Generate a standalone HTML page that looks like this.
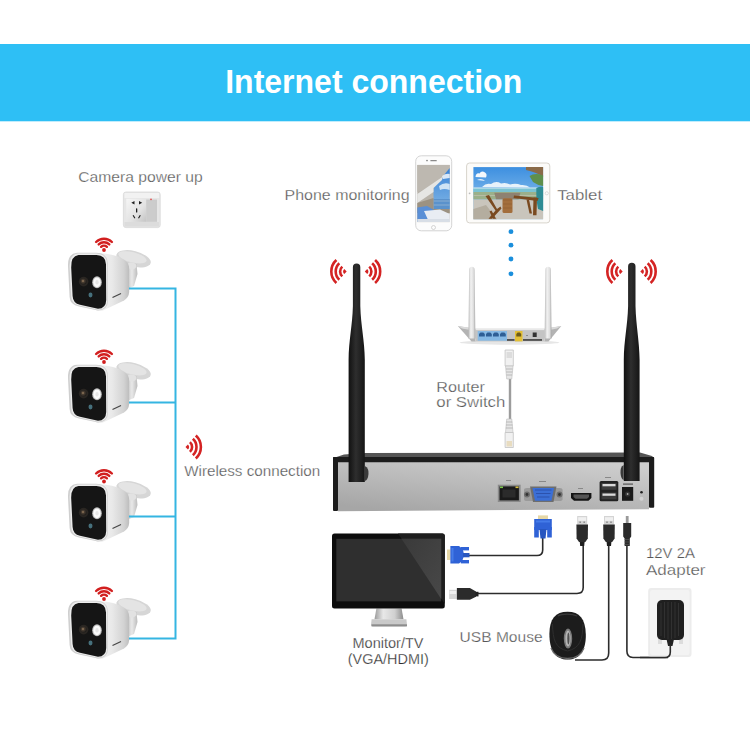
<!DOCTYPE html>
<html><head><meta charset="utf-8">
<style>
html,body{margin:0;padding:0;background:#fff;width:750px;height:750px;overflow:hidden}
svg{display:block}
.lb{font-family:"Liberation Sans",sans-serif;font-size:14.8px;fill:#575757;stroke:#fff;stroke-width:0.25px}
</style></head><body>
<svg width="750" height="750" viewBox="0 0 750 750">
<defs>
<linearGradient id="nvrFront" x1="0.2" y1="1" x2="0.8" y2="0">
  <stop offset="0" stop-color="#a6a6a6"/><stop offset="0.5" stop-color="#bababa"/><stop offset="1" stop-color="#cdcdcd"/>
</linearGradient>
<linearGradient id="antG" x1="0" y1="0" x2="1" y2="0">
  <stop offset="0" stop-color="#111"/><stop offset="0.45" stop-color="#2e2e2e"/><stop offset="1" stop-color="#151515"/>
</linearGradient>
<g id="wifiL">
  <path d="M0 0 L-2.4 -2.6 A3.4 3.4 0 0 0 -2.4 2.6 Z" fill="#d42323"/>
  <g fill="none" stroke="#d42323" stroke-width="2.6">
    <path d="M-4.42 -4.9 A6.6 6.6 0 0 0 -4.42 4.9"/>
    <path d="M-7.36 -8.17 A11 11 0 0 0 -7.36 8.17"/>
    <path d="M-10.3 -11.44 A15.4 15.4 0 0 0 -10.3 11.44"/>
  </g>
</g>
<g id="wifiU">
  <circle cx="0" cy="0" r="1.9" fill="#d21f1f"/>
  <g fill="none" stroke="#d21f1f" stroke-width="2.4" stroke-linecap="round">
    <path d="M-2.9 -3.2 A4.2 4.2 0 0 1 2.9 -3.2"/>
    <path d="M-5.3 -5.6 A7.6 7.6 0 0 1 5.3 -5.6"/>
    <path d="M-7.9 -8 A11.2 11.2 0 0 1 7.9 -8"/>
  </g>
</g>

<linearGradient id="rAnt" x1="0" y1="0" x2="1" y2="0">
  <stop offset="0" stop-color="#b8b8b8"/><stop offset="0.35" stop-color="#f2f2f2"/><stop offset="0.7" stop-color="#e0e0e0"/><stop offset="1" stop-color="#a8a8a8"/>
</linearGradient>
<linearGradient id="skyT" x1="0" y1="0" x2="0" y2="1">
  <stop offset="0" stop-color="#3d8fe0"/><stop offset="1" stop-color="#a6d2f2"/>
</linearGradient>
<linearGradient id="phoneScr" x1="0" y1="0" x2="1" y2="0">
  <stop offset="0" stop-color="#c9c9c4"/><stop offset="0.5" stop-color="#e2e2dd"/><stop offset="1" stop-color="#d0d4d8"/>
</linearGradient>

<linearGradient id="stand" x1="0" y1="0" x2="1" y2="0">
  <stop offset="0" stop-color="#9a9a9a"/><stop offset="0.3" stop-color="#e8e8e8"/><stop offset="0.7" stop-color="#d0d0d0"/><stop offset="1" stop-color="#8c8c8c"/>
</linearGradient>
<linearGradient id="mouseG" x1="0" y1="0" x2="1" y2="1">
  <stop offset="0" stop-color="#4a4a4a"/><stop offset="0.5" stop-color="#1b1b1b"/><stop offset="1" stop-color="#0c0c0c"/>
</linearGradient>
<g id="usbV">
  <rect x="-5" y="0" width="10" height="8.6" fill="#d4d4d4"/>
  <rect x="-4" y="1.2" width="8" height="3.6" fill="#f0f0f0"/>
  <rect x="-2.8" y="5.5" width="1.6" height="1.4" fill="#8a8a8a"/><rect x="1.2" y="5.5" width="1.6" height="1.4" fill="#8a8a8a"/>
  <path d="M-5.8 8.6 H5.8 L5.6 22.5 L3.2 26 H-3.2 L-5.6 22.5 Z" fill="#2b2b2b"/>
  <path d="M-2.4 26 H2.4 L2 30 H-2 Z" fill="#1e1e1e"/>
</g>

<linearGradient id="camBody" x1="0" y1="0" x2="1" y2="0">
  <stop offset="0" stop-color="#f6f6f6"/><stop offset="0.5" stop-color="#e9e9e9"/><stop offset="0.85" stop-color="#d2d2d2"/><stop offset="1" stop-color="#bdbdbd"/>
</linearGradient>
<linearGradient id="camArm" x1="0" y1="0" x2="1" y2="0">
  <stop offset="0" stop-color="#c8c8c8"/><stop offset="0.5" stop-color="#e8e8e8"/><stop offset="1" stop-color="#bcbcbc"/>
</linearGradient>
<radialGradient id="lensG" cx="0.4" cy="0.4" r="0.6">
  <stop offset="0" stop-color="#a88a68"/><stop offset="0.4" stop-color="#4a3e32"/><stop offset="1" stop-color="#1e1c1a"/>
</radialGradient>
<g id="cam">
  <ellipse cx="133.6" cy="258.8" rx="17.6" ry="7.8" transform="rotate(14 133.6 258.8)" fill="#d6d6d6"/>
  <ellipse cx="132.5" cy="257.3" rx="14.5" ry="5.2" transform="rotate(14 132.5 257.3)" fill="#e4e4e4"/>
  <path d="M126.5 262 L136.5 264 L137.5 274 L134 286 L127 289 Z" fill="url(#camArm)"/>
  <ellipse cx="131.5" cy="266" rx="5" ry="3.5" fill="#e2e2e2"/>
  <path d="M95 253 C107 253 118 255.5 124.5 260 Q129.2 263.5 129.2 268.5 L129.2 292 Q128.8 297.5 124 300.5 L103 310.5 Q100 311.5 96 310.5 Z" fill="url(#camBody)"/>
  <path d="M77 252.8 H96 Q107.5 253 107.8 263.5 L108 300 Q108 310.3 98 310.5 L79 306.5 Q70 304.8 69.6 297 L68 266 Q67.5 253.5 77 252.8 Z" fill="#cfcfcf"/>
  <path d="M78 253.6 H96 Q107 253.8 107.2 264 L107.4 300 Q107.2 309.6 98 309.8 L80 305.8 Q71.6 304 71.2 296.5 L69.6 267 Q69.2 254.5 78 253.6 Z" fill="#ececec"/>
  <path d="M78.5 255 H96.5 Q105.8 255.2 106 264.5 L106.2 300 Q106 308.5 98 308.8 L80 304.8 Q73 303.3 72.6 296 L71.2 267.5 Q70.8 256 78.5 255 Z" fill="#151515"/>
  <circle cx="83.6" cy="281.6" r="4.8" fill="#2a2622"/>
  <circle cx="83.6" cy="281.6" r="3" fill="url(#lensG)"/>
  <ellipse cx="97" cy="282.3" rx="4.8" ry="6" fill="#bdbdbd"/>
  <ellipse cx="97" cy="282.3" rx="3.7" ry="4.9" fill="#fafafa"/>
  <ellipse cx="97" cy="282.3" rx="1.6" ry="2.2" fill="#e6e6e6"/>
  <ellipse cx="90.5" cy="295" rx="2" ry="2.4" fill="#46707c"/>
  <path d="M112.5 297.5 L121 293.5" stroke="#444" stroke-width="1.2"/>
</g>
<linearGradient id="sockG" x1="0" y1="0" x2="1" y2="1">
  <stop offset="0" stop-color="#f6f6f6"/><stop offset="0.6" stop-color="#e2e2e2"/><stop offset="1" stop-color="#c4c4c4"/>
</linearGradient>
<linearGradient id="phSky" x1="0" y1="0" x2="0" y2="1">
  <stop offset="0" stop-color="#3a82d6"/><stop offset="1" stop-color="#7fb6e6"/>
</linearGradient>
<linearGradient id="glare" x1="0" y1="0" x2="1" y2="1">
  <stop offset="0" stop-color="#3a3a3a"/><stop offset="1" stop-color="#484848"/>
</linearGradient>
</defs>
<rect x="0" y="0" width="750" height="750" fill="#fff"/>
<!-- banner -->
<rect x="0" y="44" width="750" height="77.3" fill="#2ebff5"/>
<text x="225.2" y="92.9" font-family="Liberation Sans, sans-serif" font-weight="bold" font-size="34" fill="#fff" textLength="297" lengthAdjust="spacingAndGlyphs">Internet connection</text>

<!-- labels -->
<text class="lb" x="78.3" y="181.6" textLength="124.5" lengthAdjust="spacingAndGlyphs">Camera power up</text>
<text class="lb" x="284.6" y="199.8" textLength="125" lengthAdjust="spacingAndGlyphs">Phone monitoring</text>
<text class="lb" x="557.2" y="199.7" textLength="45" lengthAdjust="spacingAndGlyphs">Tablet</text>
<text class="lb" x="184.2" y="476" textLength="136" lengthAdjust="spacingAndGlyphs">Wireless connection</text>
<text class="lb" x="436.3" y="392" textLength="48.5" lengthAdjust="spacingAndGlyphs">Router</text>
<text class="lb" x="436.3" y="407.3" textLength="69" lengthAdjust="spacingAndGlyphs">or Switch</text>
<text class="lb" x="459.6" y="641.5" textLength="83" lengthAdjust="spacingAndGlyphs">USB Mouse</text>
<text class="lb" x="352.5" y="647.7" textLength="71" lengthAdjust="spacingAndGlyphs" style="fill:#2e2e2e">Monitor/TV</text>
<text class="lb" x="347.8" y="663.7" textLength="81" lengthAdjust="spacingAndGlyphs" style="fill:#2e2e2e">(VGA/HDMI)</text>
<text class="lb" x="646" y="558" textLength="49" lengthAdjust="spacingAndGlyphs">12V 2A</text>
<text class="lb" x="646" y="574.8" textLength="59.5" lengthAdjust="spacingAndGlyphs">Adapter</text>




<!-- socket -->
<g id="socket">
  <rect x="123.4" y="192" width="36.8" height="35.6" rx="2.5" fill="#e6e6e6" stroke="#d8d8d8" stroke-width="0.8"/>
  <rect x="124.5" y="193" width="34.6" height="5" fill="#f2f2f2"/>
  <rect x="126.3" y="198.8" width="20" height="23" fill="url(#sockG)"/>
  <rect x="146.2" y="199.5" width="10.8" height="22.3" fill="#cbcbcb"/>
  <path d="M148 201 V221 M150 201 V221 M152 201 V221 M154 201 V221" stroke="#d2d2d2" stroke-width="0.6"/>
  <circle cx="151" cy="199.3" r="0.9" fill="#e05050"/>
  <rect x="124.5" y="222" width="34.6" height="4.6" fill="#dcdcdc"/>
  <g fill="#1e1e1e">
    <path d="M131.3 202.8 L134.5 201 V204.6 Z"/><path d="M142.2 202.8 L139 201 V204.6 Z"/>
    <rect x="136" y="208.3" width="1.3" height="4.2" rx="0.6"/>
    <path d="M132.6 215.5 l1.8 3 l1 -0.6 l-1.8 -3 Z"/><path d="M140.8 215.5 l-1.8 3 l-1 -0.6 l1.8 -3 Z"/>
  </g>
</g>
<!-- cameras -->
<use href="#cam" x="0" y="0"/>
<use href="#cam" x="0" y="112"/>
<use href="#cam" x="0" y="231"/>
<use href="#cam" x="0" y="348"/>
<use href="#wifiU" x="104" y="250"/>
<use href="#wifiU" x="104" y="362"/>
<use href="#wifiU" x="104" y="481.5"/>
<use href="#wifiU" x="104" y="599"/>

<!-- router -->
<g id="router">
  <ellipse cx="509.5" cy="342.5" rx="50" ry="2.2" fill="#e6e6e6"/>
  <path d="M457.8 326 L475.5 329 L475.5 341.4 L471.5 341.4 Z" fill="#b3b3b3"/>
  <path d="M457.8 326 L475.5 328.5 L475.5 331 L462 328.5 Z" fill="#dadada"/>
  <path d="M561.3 326 L544.5 329 L544.5 341.4 L548.5 341.4 Z" fill="#b3b3b3"/>
  <path d="M561.3 326 L544.5 328.5 L544.5 331 L557 328.5 Z" fill="#dadada"/>
  <rect x="475.5" y="328.8" width="69" height="12.6" fill="#c4c4c4"/>
  <rect x="475.5" y="328.5" width="69" height="1.6" fill="#e9e9e9"/>
  <rect x="477.7" y="331" width="29.3" height="9.7" fill="#86b9e4"/>
  <g fill="#2f5f95">
    <path d="M479 336.5 v-2.5 l1.5 -1.6 h2.8 l1.5 1.6 v2.5 Z"/>
    <path d="M486 336.5 v-2.5 l1.5 -1.6 h2.8 l1.5 1.6 v2.5 Z"/>
    <path d="M493 336.5 v-2.5 l1.5 -1.6 h2.8 l1.5 1.6 v2.5 Z"/>
    <path d="M500 336.5 v-2.5 l1.5 -1.6 h2.8 l1.5 1.6 v2.5 Z"/>
  </g>
  <rect x="507" y="339.2" width="7.5" height="1.5" fill="#333"/>
  <rect x="515" y="331" width="7.5" height="10.4" fill="#e3bf35"/>
  <path d="M516.3 336.5 v-2.5 l1.3 -1.5 h2.3 l1.3 1.5 v2.5 Z" fill="#6b5a1a"/>
  <rect x="523" y="339.2" width="19" height="1.5" fill="#333"/>
  <rect x="532.7" y="332.5" width="4" height="4.5" fill="#333"/>
  <circle cx="527" cy="335.5" r="0.6" fill="#444"/>
  <path d="M469.2 270 Q469.2 266.8 471.9 266.8 Q474.6 266.8 474.6 270 L475.4 338.5 L468.4 338.5 Z" fill="url(#rAnt)"/>
  <path d="M545.4 270 Q545.4 266.8 548.1 266.8 Q550.8 266.8 550.8 270 L551.6 338.5 L544.6 338.5 Z" fill="url(#rAnt)"/>
</g>
<!-- ethernet cable -->
<g id="eth">
  <rect x="508.8" y="378" width="2.4" height="42" fill="#9c9c9c"/>
  <path d="M505.1 350 H513.3 V366 H505.1 Z" fill="#f1f1f1" stroke="#c2c2c2" stroke-width="0.8"/>
  <path d="M506.5 352 H512 V358 H506.5 Z" fill="#dcdcdc"/>
  <path d="M505.5 366 H513 L511.8 379 H506.7 Z" fill="#e6e6e6" stroke="#bdbdbd" stroke-width="0.6"/>
  <path d="M506 369 H512.5 M506.2 372 H512.3 M506.4 375 H512.1" stroke="#a8a8a8" stroke-width="0.7"/>
  <path d="M506.7 419 H511.8 L513 432.5 H505.5 Z" fill="#e6e6e6" stroke="#bdbdbd" stroke-width="0.6"/>
  <path d="M506.2 422 H512.3 M506 425 H512.5 M505.8 428 H512.7" stroke="#a8a8a8" stroke-width="0.7"/>
  <path d="M505.1 432.5 H513.3 V447.5 H505.1 Z" fill="#f1f1f1" stroke="#c2c2c2" stroke-width="0.8"/>
  <path d="M506.5 441 H512 V446.5 H506.5 Z" fill="#e8dcc0"/>
</g>
<!-- phone -->
<g id="phone">
  <rect x="415.7" y="155.8" width="36" height="75" rx="5.5" fill="#fcfcfc" stroke="#cfcfcf" stroke-width="0.9"/>
  <rect x="430.3" y="160" width="6.5" height="1.3" rx="0.6" fill="#8a8a8a"/>
  <circle cx="427" cy="160.6" r="0.8" fill="#777"/>
  <circle cx="433.5" cy="227.5" r="2" fill="none" stroke="#c4c4c4" stroke-width="0.7"/>
  <rect x="417.3" y="164.9" width="32.4" height="57.2" fill="#b8b3aa"/>
  <path d="M417.3 164.9 H449.7 V168 L433 186 L417.3 192 Z" fill="#bdb8b0"/>
  <path d="M449.7 168 V209 H433.5 V188 Z" fill="url(#phSky)"/>
  <path d="M439 186 Q444 182 449.7 184 V190 Q444 188 440 190 Z" fill="#cfe3f5"/>
  <path d="M442 176 Q446 173 449.7 174 V178 L443 179 Z" fill="#ffffff" opacity="0.8"/>
  <path d="M417.3 194 L443 176.5 L442 180 L433.5 188 V192 L417.3 203 Z" fill="#e6e6e4"/>
  <path d="M433.5 199 H449.7 V209 H433.5 Z" fill="#5a92cc"/>
  <path d="M433.5 201 H449.7 M433.5 205 H449.7" stroke="#b9c9d8" stroke-width="0.5"/>
  <path d="M417.3 203 L433.5 198 V209 H449.7 V213 H417.3 Z" fill="#9c9282"/>
  <path d="M417.3 207.5 L427 206 L434 210 L433 220 L417.3 222.1 Z" fill="#5a8fd6"/>
  <path d="M424 211 L440 209.5 L449.7 214 V222.1 H429 Z" fill="#e9edf3"/>
  <path d="M417.3 219 H449.7 V222.1 H417.3 Z" fill="#d8dee6"/>
</g>
<!-- tablet -->
<g id="tablet">
  <rect x="466.6" y="163" width="83.2" height="59.9" rx="3" fill="#fcfbf9" stroke="#d8d4cc" stroke-width="1"/>
  <circle cx="469.6" cy="193.3" r="0.9" fill="#bbb"/>
  <circle cx="546.8" cy="193.3" r="1.6" fill="none" stroke="#c8c8c8" stroke-width="0.6"/>
  <rect x="473.4" y="167.1" width="69.7" height="52.2" fill="url(#skyT)"/>
  <path d="M475.5 177 Q476 172.5 479.5 173.5 Q481.5 170 485 172.5 Q487.5 174 486 177.5 Z" fill="#f4f8fc"/>
  <path d="M477 180 Q480 178.5 483 179.5 L485 181 Z" fill="#eef5fb" opacity="0.9"/>
  <path d="M482 187 Q486 182.5 491 184 Q496 180.5 501 183.5 Q506 182 510 184.5 Q516 183 521 185 Q527 184.5 530 187.5 Z" fill="#eef5fb" opacity="0.95"/>
  <path d="M473.4 187.5 H543.1 V189 H473.4 Z" fill="#dbeef6"/>
  <path d="M473.4 188.6 H543.1 V192.2 H473.4 Z" fill="#7cc3d2"/>
  <path d="M473.4 192 H543.1 V199.5 H473.4 Z" fill="#9bb08a"/>
  <path d="M473.4 195 H543.1 V196 H473.4 Z" fill="#c9c4b8" opacity="0.6"/>
  <path d="M473.4 199.4 H543.1 V219.3 H473.4 Z" fill="#c9c5bc"/>
  <path d="M473.4 209 L486 205 L497 219.3 H473.4 Z" fill="#b4ad9f"/>
  <path d="M526 167.1 H543.1 V176.5 Q536 172 526 170 Z" fill="#8a6a48"/>
  <path d="M529.5 176 Q535 172.5 543.1 175.5 V186 Q537 185 533 182 Z" fill="#5f8f4c"/>
  <path d="M536.3 188 Q540 186 543.1 187 V211 L538 209 Q536 200 536.3 188 Z" fill="#2f8c94"/>
  <path d="M494.3 192.8 H520.4 L518.5 199.2 H496 Z" fill="#8e8272"/>
  <rect x="502.5" y="198.3" width="10" height="14.7" rx="1.5" fill="#a36e3c"/>
  <path d="M503 200 H512 M503 204 H512 M503 208 H512" stroke="#8a5a2e" stroke-width="0.5"/>
  <g fill="#7a4a20">
    <path d="M485.5 196 L489 195 L497 209 L500.5 206.5 L501.5 208.5 L492 218.7 L488.5 218.7 L495.5 210.5 Z"/>
    <path d="M489.5 211.5 L493 218.7 L496 218.7 L491.5 210.5 Z"/>
    <path d="M514 195.5 L538.6 198 L537.5 201 L513.6 198 Z"/>
    <path d="M533.5 197.5 L537 197.5 L536.5 215.3 L533 215.3 Z"/>
    <path d="M526.5 199.5 L529 199.5 L532 213.5 L529.5 213.5 Z"/>
  </g>
</g>

<!-- monitor -->
<g id="monitor">
  <path d="M376.4 608.4 H401.6 L403.5 619.2 H374.5 Z" fill="url(#stand)"/>
  <path d="M371.6 619.2 H406.4 L407 625 Q407 626.4 405 626.4 H373 Q371 626.4 371 625 Z" fill="#c9c9c9"/>
  <rect x="371.5" y="624.3" width="35.5" height="2.1" fill="#8d8d8d"/>
  <rect x="332" y="533.5" width="112.8" height="74.9" rx="2.5" fill="#0d0d0d"/>
  <path d="M398 533.5 H442.3 Q444.8 533.5 444.8 536 V604 Z" fill="#1e1e1e"/>
  <rect x="336.3" y="538.8" width="104.9" height="62.6" fill="#2f2f2f"/>
  <path d="M401.5 538.8 H441.2 V599 Z" fill="url(#glare)"/>
</g>
<!-- cables -->
<g fill="none" stroke="#2c2c2c" stroke-width="1.6">
  <path d="M542.7 537 V550 Q542.7 555.5 537 555.5 H469"/>
  <path d="M583.2 543 V587.5 Q583.2 593.5 577 593.5 H478"/>
  <path d="M608.7 543 V653 Q608.7 660 602 660 H575"/>
  <path d="M626.9 544 V651 Q626.9 657.5 633 657.5 H668"/>
</g>
<!-- VGA connectors -->
<g id="vgaUp">
  <rect x="538" y="515.4" width="10" height="4.2" fill="#e6d7a6"/>
  <path d="M534.2 519 H551.8 V530 H534.2 Z" fill="#2f62d6"/>
  <rect x="534.2" y="527" width="4.6" height="10.5" fill="#2f62d6"/>
  <rect x="547.2" y="527" width="4.6" height="10.5" fill="#2f62d6"/>
  <path d="M539.5 529 H546.5 L545.5 538.5 H540.5 Z" fill="#2756c0"/>
  <rect x="536" y="520.5" width="14" height="2" fill="#4a82ec" opacity="0.8"/>
</g>
<g id="vgaL">
  <rect x="447" y="549.5" width="3.6" height="10.5" fill="#e6d7a6"/>
  <path d="M450.4 546 H459 Q463.8 549 463.8 554.7 Q463.8 560.4 459 563.4 H450.4 Z" fill="#2f62d6"/>
  <rect x="460.8" y="547" width="8.2" height="3.4" fill="#2f62d6"/>
  <rect x="460.8" y="560" width="8.2" height="3.4" fill="#2f62d6"/>
  <path d="M463 553 H469.5 V557.3 H463 Z" fill="#2756c0"/>
  <rect x="451.5" y="548" width="2" height="13.5" fill="#4a82ec" opacity="0.8"/>
</g>
<!-- USB plugs -->
<use href="#usbV" x="582.2" y="516"/>
<use href="#usbV" x="609" y="516"/>
<g id="usbL">
  <rect x="449.1" y="589.8" width="7.8" height="9.2" fill="#d6d6d6"/>
  <rect x="449.6" y="591" width="6.5" height="3" fill="#efefef"/>
  <path d="M456.9 588 H469.9 L476 591.6 V596.8 L469.9 599.8 H456.9 Z" fill="#2b2b2b"/>
  <rect x="475.5" y="591.8" width="3" height="4.6" fill="#222"/>
</g>
<!-- DC plug -->
<g id="dc">
  <rect x="625.8" y="516" width="2.8" height="7" fill="#9a9a9a"/>
  <path d="M623.2 523 H631.2 V536.5 L629.8 538.5 V546 H624.6 V538.5 L623.2 536.5 Z" fill="#2b2b2b"/>
  <path d="M624.6 539.5 H629.8 M624.6 542 H629.8 M624.6 544.5 H629.8" stroke="#555" stroke-width="0.7"/>
</g>
<!-- mouse -->
<g id="mouse">
  <path d="M567.6 611.8 C579.5 611.8 585.4 619 585.8 634 C586.2 650 580 659.6 567.6 659.6 C555 659.6 549.4 650 549.4 634 C549.4 619 555.5 611.8 567.6 611.8 Z" fill="#1c1c1c"/>
  <path d="M551 648 C554 656 560 658.5 567.6 658.5 C575 658.5 581 656 584 648" fill="none" stroke="#6a6a6a" stroke-width="1.3"/>
  <path d="M552.5 624 C553 640 555 648 567.6 651 C580 648 582.5 640 583 624" fill="none" stroke="#2e2e2e" stroke-width="1"/>
  <path d="M558 616 C562 613.5 572 613.5 577 616" fill="none" stroke="#3a3a3a" stroke-width="1.2"/>
  <ellipse cx="568" cy="638.6" rx="4.2" ry="10" fill="#7a7a7a"/>
  <ellipse cx="568" cy="638.6" rx="2.6" ry="8" fill="#b5b5b5"/>
  <ellipse cx="568.4" cy="638.6" rx="1.1" ry="6" fill="#505050"/>
</g>
<!-- adapter -->
<g id="adapter">
  <rect x="648.2" y="587.9" width="43.3" height="69.1" rx="3" fill="#ececec"/>
  <rect x="650" y="590" width="39.5" height="65" rx="2" fill="#f3f3f3"/>
  <rect x="658" y="637" width="4" height="7" fill="#dcdcdc"/><rect x="679" y="637" width="4" height="7" fill="#dcdcdc"/>
  <rect x="657" y="600" width="27" height="40" rx="5" fill="#1f1f1f"/>
  <path d="M661 603 V636 M664.5 602 V638 M668 602 V639 M671.5 602 V639 M675 602 V638 M678.5 603 V636" stroke="#333" stroke-width="0.9"/>
  <path d="M666.5 639 H674 L672.5 646 H668 Z" fill="#222"/>
  <path d="M670.3 645 V652 Q670.3 657.5 665 657.5 H640" fill="none" stroke="#2c2c2c" stroke-width="1.6"/>
</g>

<!-- NVR -->
<g id="nvr">
  <path d="M335 457.5 L344 454.5 L365 453 L640 452.5 L652 456 L654 458 L333 458 Z" fill="#555"/>
  <path d="M338 462 H649 V509.2 L338 511.2 Z" fill="url(#nvrFront)"/>
  <rect x="333" y="457" width="321" height="5.2" rx="1" fill="#1c1c1c"/>
  <rect x="333" y="457" width="5" height="54" rx="1" fill="#1c1c1c"/>
  <rect x="649" y="457" width="5.2" height="50.8" rx="1" fill="#1c1c1c"/>
  
  <!-- LAN -->
  <rect x="497.8" y="484.7" width="22.8" height="17.3" fill="#8a8a8a"/>
  <rect x="499.5" y="486.4" width="19.4" height="14" fill="#1a1a1a"/>
  <rect x="500" y="486.5" width="3" height="1.6" fill="#7bc34a"/>
  <rect x="515.5" y="486.5" width="3" height="1.6" fill="#d8c040"/>
  <rect x="502.5" y="489.5" width="13" height="8" fill="#2b2b2b"/>
  <!-- VGA -->
  <path d="M524 490 Q524 488 527 488 H559.5 Q562.6 488 562.6 490 V499 Q562.6 501 559.5 501 H527 Q524 501 524 499 Z" fill="#9a9a9a"/>
  <circle cx="527" cy="494.5" r="3" fill="#6d6d6d"/><circle cx="527" cy="494.5" r="1.4" fill="#333"/>
  <circle cx="559.5" cy="494.5" r="3" fill="#6d6d6d"/><circle cx="559.5" cy="494.5" r="1.4" fill="#333"/>
  <path d="M530 486.5 H556.5 L553.5 502 H533 Z" fill="#6e6e6e"/>
  <path d="M532.5 488 H554 L551.5 500.8 H535 Z" fill="#3b6fd6"/>
  <path d="M535 490 H551.5 M536 493.5 H550.5 M537 497 H549.5" stroke="#2a4fa8" stroke-width="0.9"/>
  <!-- HDMI -->
  <path d="M571 492.9 H591.4 V498 L588.5 500.8 H574 L571 498 Z" fill="#151515"/>
  <path d="M573.5 494.5 H589 V497 L587 498.8 H575.5 L573.5 497 Z" fill="#555"/>
  <!-- USB double -->
  <rect x="599.6" y="481" width="18.7" height="20.3" rx="1.5" fill="#222"/>
  <rect x="601.5" y="483" width="15" height="6.8" fill="#3c3c3c"/>
  <rect x="601.5" y="492.5" width="15" height="6.8" fill="#3c3c3c"/>
  <rect x="602.5" y="484" width="13" height="2.3" fill="#d9d9d9"/>
  <rect x="602.5" y="493.5" width="13" height="2.3" fill="#d9d9d9"/>
  <!-- DC -->
  <rect x="622" y="487" width="11.2" height="13.8" fill="#1a1a1a"/>
  <circle cx="627.6" cy="494" r="2.6" fill="#333"/><circle cx="627.6" cy="494" r="0.9" fill="#aaa"/>
  <circle cx="641.5" cy="492.3" r="1.3" fill="#222"/>
  <circle cx="641.5" cy="498.7" r="2" fill="#d2d2d2"/>
  <!-- tiny labels -->
  <rect x="506" y="480" width="5" height="1" fill="#888"/>
  <rect x="539" y="481" width="7" height="1" fill="#888"/>
  <rect x="578" y="488" width="5" height="1" fill="#888"/>
  <rect x="605" y="477" width="6" height="1" fill="#888"/>
  <rect x="623" y="483.5" width="10" height="1.2" fill="#555"/>
</g>
<!-- antennas -->
<path d="M352.9 267.2 Q352.9 263.5 356.6 263.5 Q360.3 263.5 360.3 267.2 L360.3 306 C360.8 326 364.6 340 364.8 360 L364.8 482 L348.6 482 L348.6 360 C348.8 340 352.4 326 352.9 306 Z" fill="url(#antG)"/>
<path d="M364.8 466 Q369 468 368.5 474 Q368 480 364.8 481 Z" fill="#3a3a3a"/>
<path d="M628.1 266.5 Q628.1 262.8 631.8 262.8 Q635.5 262.8 635.5 266.5 L635.5 306 C636 326 639.4 340 639.6 360 L639.6 481 L623.8 481 L623.8 360 C624 340 627.6 326 628.1 306 Z" fill="url(#antG)"/>
<path d="M623.6 465 Q620 467 620.5 473 Q621 479 623.6 480 Z" fill="#3a3a3a"/>
<use href="#wifiL" x="346.7" y="271.5"/>
<use href="#wifiL" transform="translate(364.8 271.5) scale(-1 1)"/>
<use href="#wifiL" x="622.7" y="271.5"/>
<use href="#wifiL" transform="translate(640.3 271.5) scale(-1 1)"/>
<use href="#wifiL" transform="translate(185.5 447) scale(-1 1)"/>

<!-- blue connection lines -->
<path d="M129 288.5 H175.5 V638.5 H129 M129 402.5 H175.5 M129 516.5 H175.5" fill="none" stroke="#35b5e2" stroke-width="2"/>
<!-- dots -->
<g fill="#1b8fdc"><circle cx="511" cy="231.7" r="2.4"/><circle cx="511" cy="245.2" r="2.4"/><circle cx="511" cy="259" r="2.4"/><circle cx="511" cy="273.8" r="2.4"/></g>
</svg>
</body></html>
